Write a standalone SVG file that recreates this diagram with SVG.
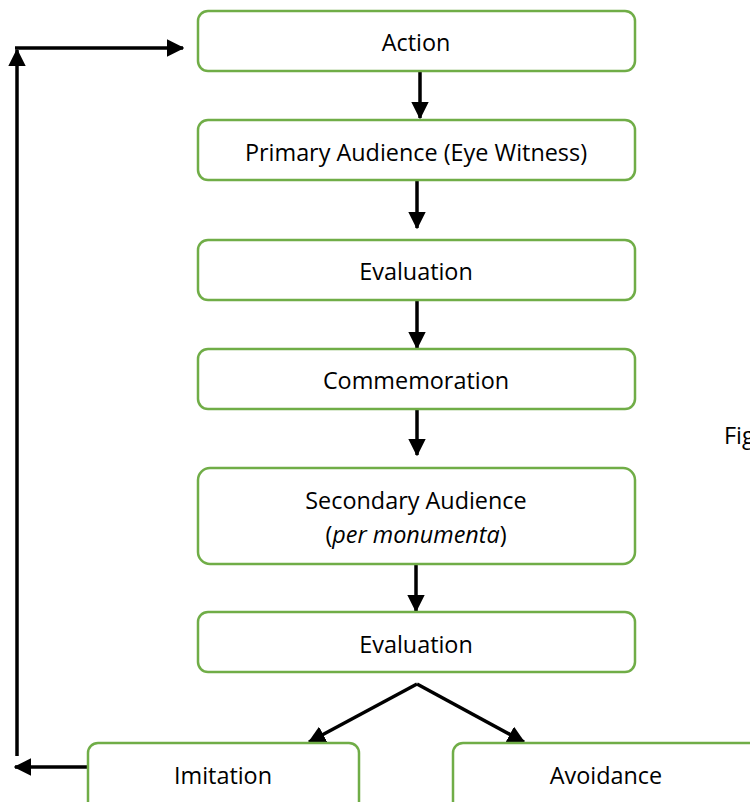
<svg xmlns="http://www.w3.org/2000/svg" width="750" height="802" viewBox="0 0 750 802">
<style>
.box{fill:#fff;stroke:#70AD47;stroke-width:2.5}
.t{font-family:"Open Sans","Liberation Sans",sans-serif;font-size:23.4px;fill:#000;text-anchor:middle}
.c{stroke:#000;stroke-width:3.5;fill:none}
</style>
<defs>
<marker id="ah" markerWidth="5" markerHeight="5" refX="4.6" refY="2.5" orient="auto" markerUnits="strokeWidth">
<path d="M0,0 L5,2.5 L0,5 Z" fill="#000"/>
</marker>
</defs>
<rect width="750" height="802" fill="#fff"/>
<g id="connectors">
<line class="c" x1="420" y1="72" x2="420" y2="118" marker-end="url(#ah)"/>
<line class="c" x1="417" y1="181" x2="417" y2="228" marker-end="url(#ah)"/>
<line class="c" x1="417" y1="301" x2="417" y2="348" marker-end="url(#ah)"/>
<line class="c" x1="417" y1="410" x2="417" y2="455" marker-end="url(#ah)"/>
<line class="c" x1="416" y1="565" x2="416" y2="611" marker-end="url(#ah)"/>
<line class="c" x1="417" y1="684" x2="309" y2="742" marker-end="url(#ah)"/>
<line class="c" x1="417" y1="684" x2="524" y2="742" marker-end="url(#ah)"/>
<line class="c" x1="88" y1="767" x2="15" y2="767" marker-end="url(#ah)"/>
<line class="c" x1="17" y1="756" x2="17" y2="50" marker-end="url(#ah)"/>
<line class="c" x1="15" y1="48" x2="183" y2="48" marker-end="url(#ah)"/>
</g>
<g id="n-action"><rect class="box" x="198" y="11" width="437" height="60" rx="10"/><text class="t" x="416" y="51">Action</text></g>
<g id="n-primary"><rect class="box" x="198" y="120" width="437" height="60" rx="10"/><text class="t" x="416" y="161">Primary Audience (Eye Witness)</text></g>
<g id="n-eval1"><rect class="box" x="198" y="240" width="437" height="60" rx="10"/><text class="t" x="416" y="280">Evaluation</text></g>
<g id="n-commem"><rect class="box" x="198" y="349" width="437" height="60" rx="10"/><text class="t" x="416" y="389">Commemoration</text></g>
<g id="n-secondary"><rect class="box" x="198" y="468" width="437" height="96" rx="12"/><text class="t" x="416" y="509">Secondary Audience</text><text class="t" x="416" y="543">(<tspan font-style="italic">per monumenta</tspan>)</text></g>
<g id="n-eval2"><rect class="box" x="198" y="612" width="437" height="60" rx="10"/><text class="t" x="416" y="653">Evaluation</text></g>
<g id="n-imitation"><rect class="box" x="88" y="743" width="271" height="80" rx="10"/><text class="t" x="223" y="784">Imitation</text></g>
<g id="n-avoidance"><rect class="box" x="453" y="743" width="320" height="80" rx="10"/><text class="t" x="606" y="784">Avoidance</text></g>
<text class="t" x="724" y="444" style="text-anchor:start">Fig</text>
</svg>
